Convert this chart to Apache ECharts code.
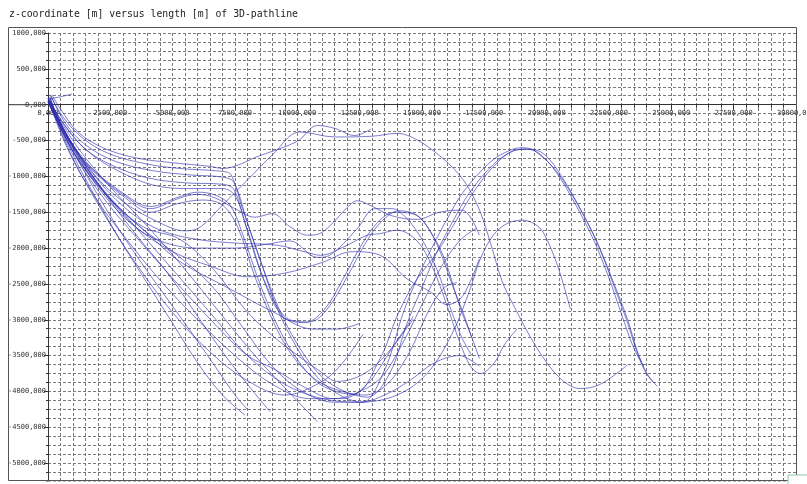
<!DOCTYPE html>
<html><head><meta charset="utf-8">
<script src="https://cdn.jsdelivr.net/npm/echarts@6/dist/echarts.min.js"></script>
<style>html,body{margin:0;padding:0;background:#fff}#c{width:807px;height:484px}</style>
</head><body><div id="c"></div>
<script>
const titleText = "z-coordinate [m] versus length [m] of 3D-pathline";
// each pathline: [length m, z m]
const p01 = [[150,140],[500,-60],[1200,-380],[2200,-600],[3500,-740],[5000,-810],[6500,-860],[7000,-890],[8500,-710],[10000,-510],[10800,-290],[11500,-330],[12300,-430],[12950,-340]];
const p02 = [[100,130],[600,-170],[1400,-470],[2500,-690],[4000,-830],[5300,-890],[7000,-930],[7350,-980],[7800,-1450],[8500,-2150],[9200,-2850],[10000,-3400],[10800,-3800],[11700,-4050],[12600,-4150],[13500,-3700],[14250,-2900],[14800,-2430],[15450,-1960],[16000,-1600],[16650,-1220],[17740,-800],[18500,-640],[19000,-600],[19500,-640],[20430,-945],[21350,-1460],[22030,-1920],[22670,-2470],[23240,-2990],[23640,-3440],[24040,-3760],[24440,-3930]];
const p03 = [[120,120],[700,-260],[1500,-560],[2700,-790],[4200,-920],[5700,-980],[7000,-1010],[7450,-1080],[8000,-1650],[8700,-2350],[9400,-2950],[10200,-3450],[11000,-3800],[11900,-4000],[12800,-4080],[13700,-3750],[14400,-3050],[15000,-2550],[15600,-2050],[16200,-1650],[16900,-1230],[17900,-820],[18700,-640],[19200,-620],[19700,-680],[20400,-950],[21200,-1420],[21900,-1900],[22500,-2420],[23000,-2920],[23500,-3400],[23900,-3650]];
const p04 = [[0,90],[700,-300],[1500,-620],[2600,-850],[4000,-1020],[5500,-1090],[7000,-1110],[7450,-1180],[7900,-1650],[8600,-2400],[9400,-2950],[10300,-3040],[11100,-2850],[11800,-2450],[12500,-2000],[13200,-1650],[13900,-1500],[14700,-1530],[15300,-1750],[15900,-2150],[16500,-2800],[17000,-3250],[17300,-3540]];
const p05 = [[0,70],[800,-350],[1700,-680],[2800,-920],[4200,-1120],[5600,-1170],[7000,-1170],[7500,-1270],[8000,-1750],[8800,-2550],[9700,-3000],[10500,-3030],[11200,-2850],[12000,-2400],[12700,-1950],[13400,-1620],[14100,-1480],[14900,-1570],[15600,-1950],[16200,-2500],[16700,-2950],[17000,-3250]];
const p06 = [[80,110],[500,-300],[1500,-800],[3000,-1230],[4100,-1420],[5300,-1280],[6000,-1220],[6700,-1260],[7300,-1400],[7800,-1800],[8500,-2500],[9300,-3150],[10100,-3600],[11000,-3920],[12240,-4040],[13320,-3540],[14000,-2950],[14650,-2510],[15610,-2055],[16400,-1600],[17200,-1150],[18100,-780],[18800,-630],[19300,-620],[19900,-690],[20600,-1000],[21450,-1520],[22100,-1990],[22700,-2530],[23250,-3050],[23650,-3480],[24000,-3750],[24300,-3880]];
const p07 = [[60,100],[600,-350],[1600,-850],[3100,-1300],[4100,-1500],[5200,-1380],[6200,-1330],[7000,-1400],[7600,-1700],[8300,-2400],[9000,-3000],[9800,-3500],[10800,-3850],[11800,-4000],[12700,-4050],[13600,-3900],[14500,-3450],[15300,-2850],[15900,-2550],[16400,-2480]];
const p08 = [[100,90],[700,-400],[1800,-900],[3000,-1250],[4100,-1450],[5300,-1300],[6000,-1250],[6700,-1300],[7500,-1450],[8300,-1570],[9000,-1520],[9700,-1700],[10400,-1820],[11000,-1780],[12100,-1400],[12400,-1340],[12900,-1400],[13800,-1550],[14800,-1600],[15700,-1500],[16600,-1470],[17300,-1820]];
const p09 = [[0,50],[900,-550],[2000,-1150],[3300,-1650],[4500,-1900],[6000,-2000],[7500,-2000],[8700,-1950],[9700,-1900],[10800,-2130],[11300,-2100],[12400,-1730],[13100,-1450],[13800,-1450],[14400,-1590],[15000,-1880],[15600,-2300],[16100,-2800],[16600,-3250],[17000,-3500]];
const p10 = [[50,60],[900,-500],[2000,-1050],[3300,-1500],[4500,-1750],[6000,-1880],[7500,-1930],[9190,-1960],[10390,-2060],[10920,-2100],[12000,-1960],[12800,-1820],[13300,-1800],[14000,-1750],[14800,-1900],[15400,-2250],[16000,-2800],[16500,-3300],[16950,-3650],[17340,-3750],[17900,-3600],[18300,-3350],[18820,-3125]];
const p11 = [[0,90],[800,-450],[1800,-950],[3000,-1350],[4500,-1650],[5500,-1760],[6100,-1710],[7000,-1400],[8000,-1050],[9000,-700],[10100,-380],[11500,-450],[13000,-440],[14000,-400],[14800,-490],[15700,-710],[16400,-940],[16900,-1180],[17340,-1500],[17740,-1920],[18200,-2450],[18660,-2790],[19620,-3400],[20550,-3820],[21350,-3960],[22150,-3900],[23240,-3630]];
const p12 = [[40,70],[800,-450],[2000,-1100],[3500,-1700],[5000,-2300],[6500,-2900],[8000,-3500],[9500,-3900],[11000,-4100],[12500,-4150],[14000,-4050],[15200,-3750],[16200,-3200],[16900,-2600],[17340,-2150],[17860,-1820],[18400,-1660],[19020,-1610],[19500,-1660],[19860,-1780],[20430,-2240],[20950,-2850]];
const p13 = [[30,50],[1000,-650],[2300,-1250],[3800,-1700],[5300,-1880],[6620,-2290],[7990,-2890],[9310,-3310],[10920,-3720],[11600,-3860],[12640,-3760],[13600,-3470],[14650,-2950]];
const p14 = [[20,40],[1100,-720],[2400,-1380],[3800,-1950],[5200,-2500],[6800,-3100],[8000,-3500],[9030,-3680],[10390,-3960],[11440,-4100],[12240,-4040],[13320,-3820],[14250,-3310],[15050,-2750],[15730,-2290],[16500,-1900],[17200,-1720]];
const p15 = [[40,60],[1200,-700],[2500,-1300],[4000,-1800],[5300,-2190],[7300,-2570],[9030,-2890],[10630,-3130],[11600,-3130],[12500,-3050]];
const p16 = [[20,50],[1000,-750],[2200,-1500],[3500,-2200],[5000,-2900],[6500,-3450],[8000,-3850],[9500,-4050],[10900,-3880],[11700,-3650],[12640,-3200]];
const p17 = [[0,40],[1000,-700],[2000,-1350],[3000,-1950],[4000,-2500],[5000,-3050],[6000,-3600],[7000,-4050],[7900,-4330]];
const p18 = [[0,30],[1000,-640],[2200,-1380],[3400,-2030],[4600,-2620],[5800,-3200],[6800,-3700],[7500,-4050],[8000,-4250]];
const p19 = [[0,50],[1000,-560],[2200,-1200],[3500,-1800],[4800,-2350],[6000,-2950],[7000,-3450],[8000,-3900],[8900,-4280]];
const p20 = [[0,60],[1200,-600],[2500,-1150],[4000,-1700],[5500,-2300],[7000,-2950],[8300,-3500],[9500,-3950],[10800,-4420]];
const p21 = [[70,80],[1000,-600],[2200,-1200],[3500,-1650],[5000,-2050],[6500,-2500],[7800,-3100],[9000,-3650],[10200,-4000],[11500,-4150],[12500,-4150],[13500,-4050],[14500,-3850],[15500,-3600],[16500,-3500],[17300,-3650]];
const p22 = [[30,40],[900,-700],[2000,-1350],[3200,-1900],[4500,-2450],[6000,-3000],[7500,-3500],[9000,-3900],[10500,-4100],[11800,-4100],[12800,-3900],[13800,-3400],[14650,-2990]];
const p23 = [[0,80],[500,110],[960,150]];
const p24 = [[40,40],[1000,-650],[2200,-1200],[3500,-1700],[5000,-2050],[6500,-2250],[8000,-2400],[9500,-2350],[11000,-2200],[12200,-2050],[13320,-2100],[14400,-2430],[15330,-2610],[16010,-2790],[16530,-2710],[16930,-2470],[17300,-2150]];

const paths = [p01,p02,p03,p04,p05,p06,p07,p08,p09,p10,p11,p12,p13,p14,p15,p16,p17,p18,p19,p20,p21,p22,p23,p24];

const fmt = v => v.toFixed(3).replace('.', ',');
const mono = "'DejaVu Sans Mono', monospace";
const gridLine = {show:true, lineStyle:{color:'#7a7a7a', type:[3,2], width:1}};

const chart = echarts.init(document.getElementById('c'), null, {renderer:'canvas'});
const option = {
  animation:false,
  backgroundColor:'#fff',
  title:{text:titleText, left:4, top:4, textStyle:{fontFamily:mono, fontSize:9.8, fontWeight:'normal', color:'#222'}},
  grid:{left:48, right:11, top:33, bottom:-15, show:false, containLabel:false, outerBoundsMode:'none'},
  xAxis:{type:'value', min:0, max:30000, interval:2500, position:'bottom', offset:0,
    axisLine:{onZero:false, lineStyle:{color:'#333', width:1}},
    axisTick:{show:true, length:5, lineStyle:{color:'#333'}},
    minorTick:{show:true, splitNumber:5, length:3, lineStyle:{color:'#333'}},
    axisLabel:{formatter:fmt, fontFamily:mono, fontSize:7, color:'#333', margin:5, interval:0, showMaxLabel:true},
    splitLine:gridLine, minorSplitLine:gridLine},
  yAxis:{type:'value', min:-5500, max:1000, interval:500,
    axisLine:{onZero:false, lineStyle:{color:'#333', width:1}},
    axisTick:{show:true, length:4, lineStyle:{color:'#333'}},
    minorTick:{show:true, splitNumber:4, length:2, lineStyle:{color:'#333'}},
    axisLabel:{formatter:fmt, fontFamily:mono, fontSize:7, color:'#333', margin:2},
    splitLine:gridLine, minorSplitLine:gridLine},
  series: paths.map((d,i)=>({type:'line', name:'path'+(i+1), data:d, showSymbol:false, smooth:0.35,
    lineStyle:{color:'rgba(45,45,175,0.62)', width:1}, silent:true}))
};
chart.setOption(option);
let y0 = chart.convertToPixel({yAxisIndex:0}, 0);
const yB = chart.convertToPixel({yAxisIndex:0}, -5500);
chart.setOption({xAxis:{offset: -(yB - y0)}});
y0 = chart.convertToPixel({yAxisIndex:0}, 0);
const xR = chart.convertToPixel({xAxisIndex:0}, 30000);
chart.setOption({
  graphic:[
    {type:'rect', shape:{x:0, y:481.5, width:807, height:4}, style:{fill:'#fff'}, z:99},
    {type:'rect', shape:{x:8.5, y:27.5, width:xR-8, height:453}, style:{fill:null, stroke:'#555', lineWidth:1}, z:100},
    {type:'line', shape:{x1:8, y1:y0, x2:48, y2:y0}, style:{stroke:'#333', lineWidth:1}, z:100},
    {type:'rect', shape:{x:788, y:475, width:22, height:12}, style:{fill:'#fff', stroke:'#8fc9a8', lineWidth:1}, z:101}
  ]});
</script></body></html>
